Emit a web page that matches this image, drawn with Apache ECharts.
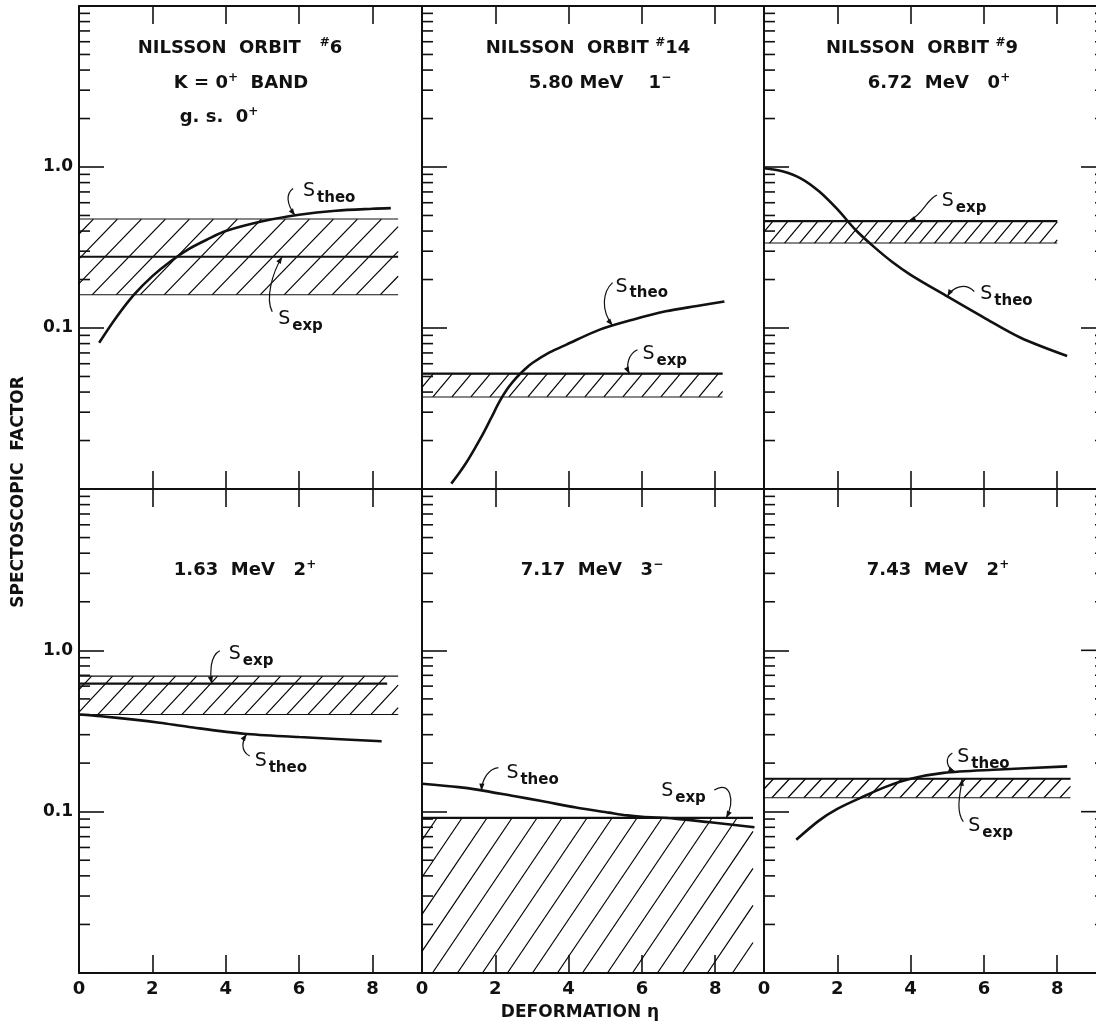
<!DOCTYPE html>
<html><head><meta charset="utf-8">
<script src="https://cdn.jsdelivr.net/npm/echarts@6.0.0/dist/echarts.min.js"></script>
<style>html,body{margin:0;padding:0;background:#fff}#c{width:1096px;height:1028px}</style>
</head><body><div id="c"></div>
<script>
// ================= DATA =================
const xTickValues = [0, 2, 4, 6, 8];
const yLabelValues = [0.1, 1];
const yLabelTexts = ['0.1', '1.0'];
const majorTicks = [0.1, 1];
const minorTicks = [0.02,0.03,0.04,0.05,0.06,0.07,0.08,0.09,
                    0.2,0.3,0.4,0.5,0.6,0.7,0.8,0.9,
                    2,3,4,5,6,7,8,9];

const titleLines1 = ['NILSSON  ORBIT   {sup|#}6', 'K = 0{sup|+}  BAND', 'g. s.  0{sup|+}'];
const titleLines2 = ['NILSSON  ORBIT {sup|#}14', '5.80 MeV    1{sup|−}'];
const titleLines3 = ['NILSSON  ORBIT {sup|#}9', '6.72  MeV   0{sup|+}'];
const titleLines4 = ['1.63  MeV   2{sup|+}'];
const titleLines5 = ['7.17  MeV   3{sup|−}'];
const titleLines6 = ['7.43  MeV   2{sup|+}'];

// theoretical curves (deformation eta, S_theo)
const eta1 = [0.55,1.0,1.5,2.0,2.5,3.0,3.5,4.0,5.0,6.0,7.0,8.0,8.5];
const sTheo1 = [0.081,0.115,0.161,0.21,0.26,0.31,0.355,0.40,0.46,0.505,0.535,0.55,0.555];
const eta2 = [0.80,1.03,1.21,1.43,1.66,1.89,2.12,2.34,2.57,2.80,3.02,3.48,3.94,4.85,5.75,6.65,7.5,8.25];
const sTheo2 = [0.0108,0.0127,0.0146,0.0177,0.0219,0.0277,0.0351,0.0422,0.049,0.0553,0.0608,0.0705,0.0789,0.0977,0.1127,0.127,0.137,0.146];
const eta3 = [0,0.5,1.0,1.5,2.0,2.5,3.0,3.5,4.0,5.0,6.0,7.0,8.27];
const sTheo3 = [0.982,0.941,0.851,0.707,0.547,0.406,0.319,0.257,0.214,0.157,0.116,0.087,0.067];
const eta4 = [0,0.6,1.5,2.2,3.0,4.5,6.0,7.0,8.25];
const sTheo4 = [0.40,0.39,0.372,0.356,0.335,0.304,0.29,0.282,0.273];
const eta5 = [0,1.0,1.5,2.5,3.3,4.2,5.1,5.6,6.0,6.9,7.8,9.07];
const sTheo5 = [0.149,0.142,0.137,0.125,0.116,0.106,0.0986,0.0948,0.093,0.0905,0.0862,0.080];
const eta6 = [0.88,1.5,2.0,2.63,3.3,4.0,4.9,6.27,8.27];
const sTheo6 = [0.067,0.088,0.104,0.1217,0.142,0.16,0.174,0.182,0.191];

// experimental bands
const bandStart = [0, 0, 0, 0, 0, 0];
const bandEnd   = [8.7, 8.2, 8.0, 8.7, 9.03, 8.36];
const expLow    = [0.161, 0.0373, 0.337, 0.40, 0.01, 0.122];
const expHigh   = [0.475, 0.052, 0.4615, 0.692, 0.0914, 0.160];
const sExp      = [0.277, 0.052, 0.4615, 0.621, 0.0914, 0.160];
const sExpEnd   = [8.7, 8.2, 8.0, 8.4, 9.03, 8.36];

// annotations (anchor in data coordinates)
const annPanel = [0,0,1,1,2,2,3,3,4,4,5,5];
const annKind  = ['theo','exp','theo','exp','exp','theo','exp','theo','theo','exp','theo','exp'];
const annEta   = [5.89,5.54,5.2,5.66,3.95,5.0,3.62,4.57,1.62,8.3,5.22,5.41];
const annS     = [0.50,0.277,0.1035,0.052,0.4615,0.157,0.621,0.303,0.135,0.0914,0.176,0.160];

// ================= LAYOUT / STYLE =================
const FONT = 'DejaVu Sans';
const INK = '#111';
const gridLeft   = [79, 422, 764, 79, 422, 764];
const gridWidth  = [343, 342, 342, 343, 342, 342];
const gridTop    = [6, 6, 6, 489, 489, 489];
const gridHeight = [483, 483, 483, 484, 484, 484];
const xMax       = [9.35, 9.33, 9.33, 9.35, 9.33, 9.33];
const hatchSpacing = [24, 19, 15, 21, 25, 16];
const hatchAngle   = [46, 50, 50, 47, 56, 47];
const titleSets = [titleLines1,titleLines2,titleLines3,titleLines4,titleLines5,titleLines6];
const titleX = [[240,241,219],[588,600],[922,939],[245],[592],[938]];
const titleY = [[48,83,117],[48,83],[48,83],[570],[570],[570]];
// label offset l, leader start s, control points c1, c2 (px relative to anchor)
const annLayout = [
  {l:[8,-24],  s:[-2,-27], c1:[-9,-22], c2:[-9,-12]},
  {l:[-4,62],  s:[-10,55], c1:[-17,42], c2:[-10,16]},
  {l:[3,-39],  s:[0,-43],  c1:[-10,-34],c2:[-12,-15]},
  {l:[13,-20], s:[8,-24],  c1:[-1,-20], c2:[-4,-8]},
  {l:[33,-20], s:[28,-26], c1:[18,-22], c2:[14,-6]},
  {l:[33,-2],  s:[27,-5],  c1:[18,-14], c2:[6,-10]},
  {l:[17,-30], s:[8,-33],  c1:[-2,-28], c2:[-2,-10]},
  {l:[8,27],   s:[3,22],   c1:[-7,17],  c2:[-4,6]},
  {l:[25,-18], s:[17,-23], c1:[8,-22],  c2:[1,-13]},
  {l:[-65,-27],s:[-12,-28],c1:[4,-38],  c2:[9,-18]},
  {l:[2,-15],  s:[-3,-19], c1:[-11,-14],c2:[-9,-4]},
  {l:[6,47],   s:[1,43],   c1:[-7,32],  c2:[-2,14]}
];

const etaSets = [eta1,eta2,eta3,eta4,eta5,eta6];
const theoSets = [sTheo1,sTheo2,sTheo3,sTheo4,sTheo5,sTheo6];

// ================= BUILD =================
const grids = [], xAxes = [], yAxes = [], series = [];
for (let i = 0; i < 6; i++) {
  grids.push({left: gridLeft[i], top: gridTop[i], width: gridWidth[i], height: gridHeight[i], containLabel: false, outerBoundsMode: 'none'});
}
function xAxisCfg(i, pos) {
  return {
    gridIndex: i, type: 'value', min: 0, max: xMax[i], interval: 2, position: pos,
    axisLine: {show: true, onZero: false, lineStyle: {color: INK, width: 2}},
    axisTick: {show: true, inside: true, length: 18, lineStyle: {color: INK, width: 1.6}},
    axisLabel: {
      show: pos === 'bottom' && i >= 3, margin: 7, color: INK,
      fontFamily: FONT, fontWeight: 'bold', fontSize: 18, showMaxLabel: false,
      formatter: v => xTickValues.some(t => Math.abs(t - v) < 1e-6) ? String(Math.round(v)) : ''
    },
    splitLine: {show: false}
  };
}
for (let i = 0; i < 6; i++) xAxes.push(xAxisCfg(i, 'bottom'));
for (let i = 0; i < 6; i++) xAxes.push(xAxisCfg(i, 'top'));
for (let i = 0; i < 6; i++) {
  yAxes.push({
    gridIndex: i, type: 'log', logBase: 10, min: 0.01, max: 10, position: 'left',
    axisLine: {show: true, onZero: false, lineStyle: {color: INK, width: 2}},
    axisTick: {show: true, inside: true, length: 25, lineStyle: {color: INK, width: 1.6}},
    axisLabel: {
      show: i === 0 || i === 3, margin: 6, color: INK, fontFamily: FONT, fontWeight: 'bold', fontSize: 17,
      formatter: v => { const k = yLabelValues.findIndex(t => Math.abs(t - v) < 1e-9 * Math.max(1, t)); return k >= 0 ? yLabelTexts[k] : ''; }
    },
    splitLine: {show: false}
  });
}

function hatchRender(spacing, angleDeg) {
  return function (params, api) {
    const x0 = api.value(0), x1 = api.value(1), lo = api.value(2), hi = api.value(3);
    const pTL = api.coord([x0, hi]), pBR = api.coord([x1, lo]);
    const L = pTL[0], T = pTL[1], R = pBR[0], B = pBR[1], H = B - T;
    const run = H / Math.tan(angleDeg * Math.PI / 180);
    const children = [];
    for (let c = -run + spacing * 0.6; c < R - L; c += spacing) {
      const t0 = Math.max(0, -c / run), t1 = Math.min(1, (R - L - c) / run);
      if (t1 > t0) children.push({type: 'line', shape: {x1: L + c + t0 * run, y1: B - t0 * H, x2: L + c + t1 * run, y2: B - t1 * H}, style: {stroke: '#000', lineWidth: 1.2}});
    }
    children.push({type: 'line', shape: {x1: L, y1: T, x2: R, y2: T}, style: {stroke: INK, lineWidth: 1.1}});
    children.push({type: 'line', shape: {x1: L, y1: B, x2: R, y2: B}, style: {stroke: INK, lineWidth: 1.1}});
    return {type: 'group', children};
  };
}
// log ticks drawn from an axis edge: item = [edgeX, value, length, direction]
function edgeTickRender(params, api) {
  const p = api.coord([api.value(0), api.value(1)]);
  const len = api.value(2) * api.value(3);
  return {type: 'line', shape: {x1: p[0], y1: p[1], x2: p[0] + len, y2: p[1]}, style: {stroke: INK, lineWidth: 1.6}};
}
function annotationRender(indices) {
  return function (params, api) {
    const k = indices[params.dataIndex];
    const A = api.coord([api.value(0), api.value(1)]);
    const Ly = annLayout[k];
    const S = [A[0] + Ly.s[0], A[1] + Ly.s[1]];
    const C1 = [A[0] + Ly.c1[0], A[1] + Ly.c1[1]];
    const C2 = [A[0] + Ly.c2[0], A[1] + Ly.c2[1]];
    const d = 'M' + S[0] + ' ' + S[1] + ' C' + C1[0] + ' ' + C1[1] + ' ' + C2[0] + ' ' + C2[1] + ' ' + A[0] + ' ' + A[1];
    let dx = A[0] - C2[0], dy = A[1] - C2[1];
    const n = Math.hypot(dx, dy) || 1; dx /= n; dy /= n;
    const len = 7, w = 2.6;
    const bx = A[0] - dx * len, by = A[1] - dy * len;
    const pts = [[A[0], A[1]], [bx - dy * w, by + dx * w], [bx + dy * w, by - dx * w]];
    const sub = annKind[k];
    const lx = A[0] + Ly.l[0], ly = A[1] + Ly.l[1];
    return {type: 'group', children: [
      {type: 'path', shape: {pathData: d}, style: {stroke: INK, fill: 'none', lineWidth: 1.2}},
      {type: 'polygon', shape: {points: pts}, style: {fill: INK}},
      {type: 'text', x: lx, y: ly, style: {text: 'S', fontFamily: FONT, fontSize: 19, fill: INK, align: 'left', verticalAlign: 'middle'}},
      {type: 'text', x: lx + 14, y: ly + 7, style: {text: sub, fontFamily: FONT, fontWeight: 'bold', fontSize: 15, fill: INK, align: 'left', verticalAlign: 'middle'}}
    ]};
  };
}

for (let i = 0; i < 6; i++) {
  series.push({
    type: 'custom', xAxisIndex: i, yAxisIndex: i, silent: true, clip: false,
    renderItem: hatchRender(hatchSpacing[i], hatchAngle[i]),
    encode: {x: [0, 1], y: [2, 3]},
    data: [[bandStart[i], bandEnd[i], expLow[i], expHigh[i]]]
  });
  series.push({
    type: 'line', xAxisIndex: i, yAxisIndex: i, showSymbol: false, symbol: 'none', silent: true,
    lineStyle: {color: INK, width: 2.2},
    data: [[bandStart[i], sExp[i]], [sExpEnd[i], sExp[i]]]
  });
  series.push({
    type: 'line', xAxisIndex: i, yAxisIndex: i, showSymbol: false, symbol: 'none', silent: true,
    smooth: 0.3,
    lineStyle: {color: INK, width: 2.6},
    data: etaSets[i].map((e, j) => [e, theoSets[i][j]])
  });
  // left minor ticks, plus right-edge ticks on the outer panels
  let tickItems = minorTicks.map(v => [0, v, 11, 1]);
  if (i === 2 || i === 5) {
    tickItems = tickItems.concat(minorTicks.map(v => [xMax[i], v, 11, -1]), majorTicks.map(v => [xMax[i], v, 25, -1]));
  }
  series.push({
    type: 'custom', xAxisIndex: i, yAxisIndex: i, silent: true, clip: false,
    renderItem: edgeTickRender, encode: {x: 0, y: 1},
    data: tickItems
  });
  const idx = annPanel.map((p, k) => p === i ? k : -1).filter(k => k >= 0);
  series.push({
    type: 'custom', xAxisIndex: i, yAxisIndex: i, silent: true, clip: false,
    renderItem: annotationRender(idx), encode: {x: 0, y: 1},
    data: idx.map(k => [annEta[k], annS[k]])
  });
}

const graphics = [];
for (let i = 0; i < 6; i++) {
  titleSets[i].forEach((t, j) => {
    graphics.push({
      type: 'text', x: titleX[i][j], y: titleY[i][j], silent: true,
      style: {
        text: t, fill: INK, fontFamily: FONT, fontWeight: 'bold', fontSize: 18,
        align: 'center', verticalAlign: 'middle',
        rich: {sup: {fontFamily: FONT, fontWeight: 'bold', fontSize: 12, lineHeight: 13, padding: [0, 0, 11, 0], fill: INK}}
      }
    });
  });
}
graphics.push({
  type: 'text', x: 580, y: 1013, silent: true,
  style: {text: 'DEFORMATION η', fill: INK, fontFamily: FONT, fontWeight: 'bold', fontSize: 17, align: 'center', verticalAlign: 'middle'}
});
graphics.push({
  type: 'text', x: 19, y: 492, rotation: Math.PI / 2, silent: true,
  style: {text: 'SPECTOSCOPIC  FACTOR', fill: INK, fontFamily: FONT, fontWeight: 'bold', fontSize: 17, align: 'center', verticalAlign: 'middle'}
});

const chart = echarts.init(document.getElementById('c'), null, {renderer: 'canvas'});
chart.setOption({
  animation: false,
  backgroundColor: '#fff',
  textStyle: {fontFamily: FONT},
  grid: grids, xAxis: xAxes, yAxis: yAxes, series: series, graphic: graphics
});
</script></body></html>
